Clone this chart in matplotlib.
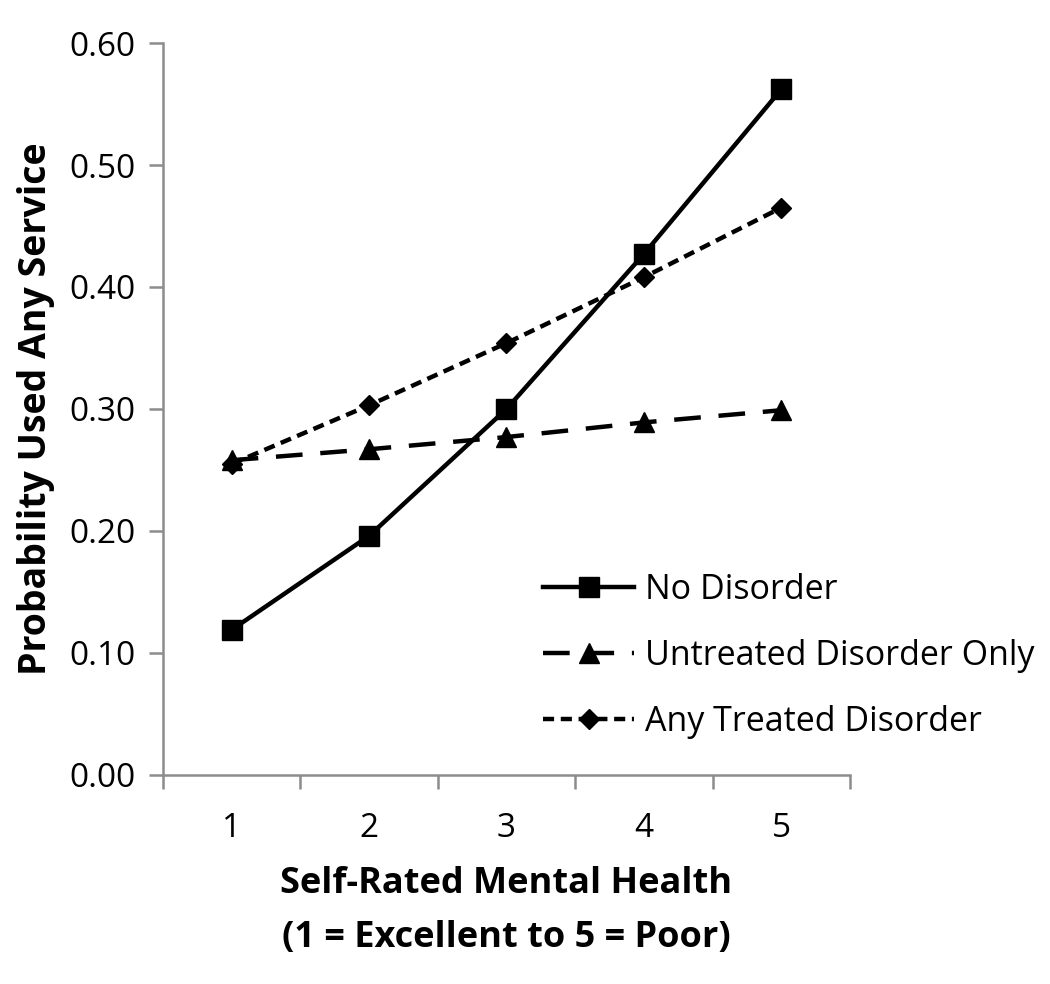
import matplotlib.pyplot as plt

plt.rcParams['font.family'] = ['Open Sans', 'DejaVu Sans']

# データ
ratings = ["1", "2", "3", "4", "5"]
no_disorder = [0.119, 0.196, 0.300, 0.427, 0.562]
untreated = [0.258, 0.267, 0.277, 0.289, 0.299]
treated = [0.255, 0.303, 0.354, 0.408, 0.465]

fig = plt.figure(figsize=(10.5, 9.84), dpi=100)
ax = fig.add_axes([0.1552, 0.2124, 0.6543, 0.7439])

x = range(len(ratings))
ax.plot(x, no_disorder, color="black", lw=3.2, ls="-", marker="s", ms=14,
        label="No Disorder")
ax.plot(x, untreated, color="black", lw=3.2, ls=(0, (6, 4)), marker="^", ms=14,
        label="Untreated Disorder Only")
ax.plot(x, treated, color="black", lw=3.2, ls=(0, (2.5, 1.5)), marker="D", ms=10,
        label="Any Treated Disorder")

ax.set_xlim(-0.5, len(ratings) - 0.5)
ax.set_ylim(0, 0.6)
ax.set_xticks(x)
ax.set_xticklabels(ratings)
ax.set_xticks([i - 0.5 for i in range(len(ratings) + 1)], minor=True)
ax.set_yticks([i / 10 for i in range(7)])
ax.set_yticklabels(["%.2f" % (i / 10) for i in range(7)])

for s in ["top", "right"]:
    ax.spines[s].set_visible(False)
for s in ["left", "bottom"]:
    ax.spines[s].set_color("#8c8c8c")
    ax.spines[s].set_linewidth(1.8)

ax.tick_params(axis="x", which="major", length=0, labelsize=24, pad=27)
ax.tick_params(axis="x", which="minor", length=10, width=1.8, color="#8c8c8c")
ax.tick_params(axis="y", length=10, width=1.8, color="#8c8c8c", labelsize=24, pad=10)

ax.set_xlabel("Self-Rated Mental Health\n(1 = Excellent to 5 = Poor)",
              fontsize=26, fontweight="bold", labelpad=15, linespacing=1.65)
ax.set_ylabel("Probability Used Any Service", fontsize=27, fontweight="bold",
              labelpad=10)

ax.legend(loc="lower left", bbox_to_anchor=(0.508, 0.008), frameon=False,
          fontsize=24.5, handlelength=2.7, labelspacing=0.93, handletextpad=0.3)

fig.savefig("out.png", dpi=100)
